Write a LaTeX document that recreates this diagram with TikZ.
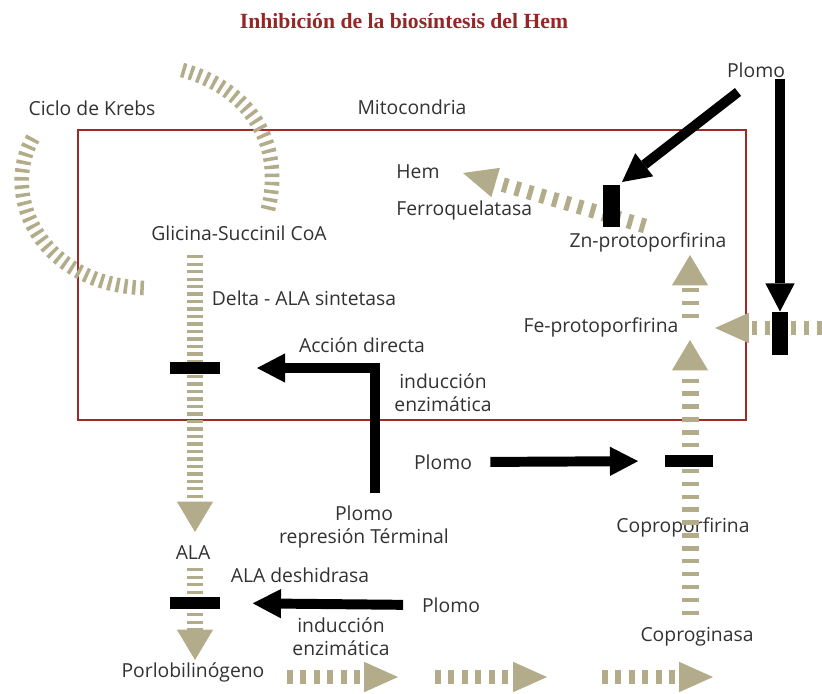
\documentclass[tikz,border=0pt]{standalone}
\usepackage{fontspec}
\setmainfont{Open Sans}
\newfontfamily\titlefont{Liberation Serif}
\usepackage{xcolor}
\usetikzlibrary{arrows.meta}
\definecolor{hem_tan}{RGB}{178,172,138}
\definecolor{mito_red}{RGB}{158,42,42}
\definecolor{title_red}{RGB}{150,38,38}
\definecolor{label_gray}{RGB}{50,50,50}

\begin{document}
\begin{tikzpicture}[x=0.03cm, y=-0.03cm, font=\fontsize{16.5}{19.5}\selectfont,
    heading/.style={text=title_red, font=\titlefont\bfseries\fontsize{18.5}{21}\selectfont},
    lbl/.style={text=label_gray, inner sep=1pt, align=center},
    cycle/.style={draw=hem_tan, line width=12.5pt, dash pattern=on 3pt off 4pt},
    route/.style={draw=hem_tan, line width=14.5pt, dash pattern=on 2.6pt off 3.8pt,
      -{Triangle[length=26pt, width=31pt, line width=0pt]}},
    flatroute/.style={draw=hem_tan, line width=12.5pt, dash pattern=on 5pt off 6.5pt,
      -{Triangle[length=29pt, width=26pt, line width=0pt]}},
    block/.style={fill=black, inner sep=0pt, outer sep=0pt},
    lead/.style={draw=black, line width=8.5pt,
      -{Triangle[length=24pt, width=25pt, line width=0pt]}}]
  \useasboundingbox (0,0) rectangle (822,693);

  % title
  \node[heading] (title) at (404,21) {Inhibición de la biosíntesis del Hem};

  % mitocondria
  \draw[mito_red, line width=1.8pt] (78,130) rectangle (746,420);

  % labels
  \node[lbl] (krebs) at (92,108) {Ciclo de Krebs};
  \node[lbl] (mito) at (412,107) {Mitocondria};
  \node[lbl] (plomoA) at (756,70) {Plomo};
  \node[lbl, anchor=west] (hem) at (395,172) {Hem};
  \node[lbl, anchor=west] (ferro) at (395,210) {Ferroquelatasa};
  \node[lbl] (zn) at (648,242) {Zn-protoporfirina};
  \node[lbl] (glicina) at (239,233) {Glicina-Succinil CoA};
  \node[lbl] (delta) at (304,298) {Delta - ALA sintetasa};
  \node[lbl] (fe) at (601,327) {Fe-protoporfirina};
  \node[lbl] (accion) at (362,345) {Acción directa};
  \node[lbl] (induc1) at (443,393) {inducción\\enzimática};
  \node[lbl] (plomoB) at (443,462) {Plomo};
  \node[lbl] (plomoC) at (364,527) {Plomo\\represión Términal};
  \node[lbl] (copro) at (683,527) {Coproporfirina};
  \node[lbl] (ala) at (193,553) {ALA};
  \node[lbl] (aladesh) at (300,575) {ALA deshidrasa};
  \node[lbl] (plomoD) at (451,605) {Plomo};
  \node[lbl] (induc2) at (341,637) {inducción\\enzimática};
  \node[lbl] (porlo) at (193,672) {Porlobilinógeno};
  \node[lbl] (coprog) at (697,637) {Coproginasa};

  % Krebs cycle
  \draw[cycle] (33,138) .. controls (0,195) and (40,285) .. (145,288);
  \draw[cycle] (182,70) .. controls (255,90) and (285,150) .. (267,213);

  % synthesis route
  \coordinate (c1) at (195,255);
  \coordinate (c2) at (195,532);
  \coordinate (c3) at (195,568);
  \coordinate (c4) at (195,660);
  \draw[route] (c1) -- (c2);
  \draw[route] (c3) -- (c4);
  \coordinate (b1) at (287,677);
  \coordinate (b2) at (398,677);
  \coordinate (b3) at (435,677);
  \coordinate (b4) at (547,677);
  \coordinate (b5) at (602,677);
  \coordinate (b6) at (713,677);
  \draw[flatroute] (b1) -- (b2);
  \draw[flatroute] (b3) -- (b4);
  \draw[flatroute] (b5) -- (b6);
  \coordinate (r1) at (690,615);
  \coordinate (r2) at (690,340);
  \coordinate (r3) at (690,318);
  \coordinate (r4) at (690,255);
  \draw[route, dash pattern=on 3.8pt off 7.2pt] (r1) -- (r2);
  \draw[route, dash pattern=on 3.8pt off 7.2pt] (r3) -- (r4);
  \coordinate (e1) at (822,328);
  \coordinate (e2) at (715,328);
  \draw[flatroute, dash pattern=on 4.3pt off 6.8pt] (e1) -- (e2);
  \coordinate (h1) at (645,226);
  \coordinate (h2) at (463,173);
  \draw[flatroute, dash pattern=on 4.3pt off 6.8pt] (h1) -- (h2);

  % enzyme blocks
  \node[block, minimum width=42.7pt, minimum height=11pt] (bar1) at (195,368) {};
  \node[block, minimum width=42.7pt, minimum height=10.5pt] (bar2) at (195,603) {};
  \node[block, minimum width=41pt, minimum height=11pt] (bar3) at (689,461) {};
  \node[block, minimum width=13.6pt, minimum height=36.7pt] (bar4) at (780,333) {};
  \node[block, minimum width=14.5pt, minimum height=36pt] (bar5) at (611,206) {};

  % lead
  \coordinate (pA) at (738,92);
  \coordinate (pC) at (375,493);
  \draw[lead] (bar4 |- plomoA.south) -- (bar4.north);
  \draw[lead] (pA) -- (622,182);
  \draw[lead, shorten >=31.6pt] (pC) |- (bar1.east);
  \draw[lead, shorten <=14.5pt, shorten >=23pt] (plomoB.east) -- (bar3.west);
  \draw[lead, shorten <=15pt, shorten >=28pt] (plomoD.west) -- (bar2.east);
\end{tikzpicture}
\end{document}
